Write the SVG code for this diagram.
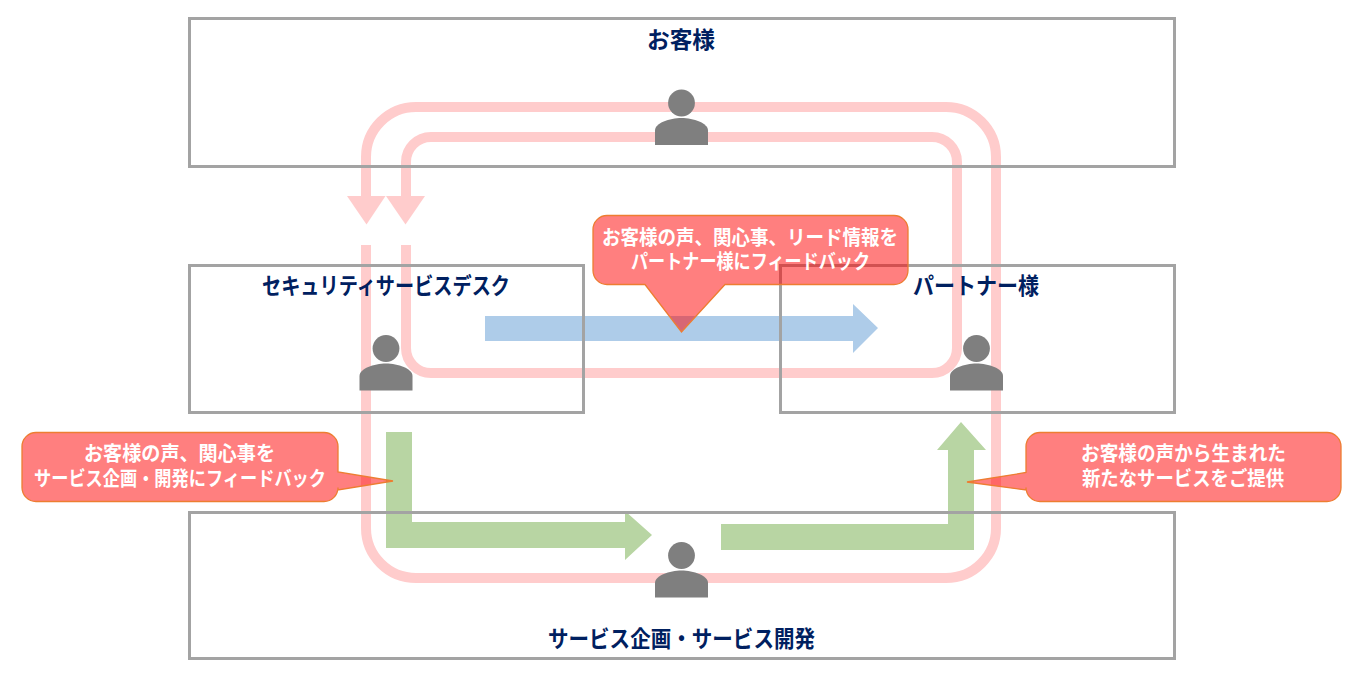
<svg xmlns="http://www.w3.org/2000/svg" width="1364" height="680" viewBox="0 0 1364 680">
<style>
text{font-family:"Liberation Sans","Noto Sans CJK JP",sans-serif;font-weight:700;text-anchor:middle}
.t{font-size:23px;fill:#002060}
.w{font-size:20px;fill:#fff}
.box{fill:none;stroke:#a3a3a3;stroke-width:3}
.flow{fill:none;stroke:#ffcccc;stroke-width:10}
.head{fill:#ffcccc}
.call{fill:#ff0000;fill-opacity:.5;stroke:#ed7d31;stroke-width:1.3}
.p{fill:#7f7f7f}
</style>
<defs>
<g id="person"><circle cx="0" cy="-42" r="13.4"/><path d="M-26.500 0V-14.500C-26.500-22-12-27 0-27S26.500-22 26.500-14.500V0Z"/></g>
</defs>
<g id="connectors">
<path class="flow" d="M366 245V528A50 50 0 0 0 416 578H946A50 50 0 0 0 996 528V157A50 50 0 0 0 946 107H416A50 50 0 0 0 366 157V197"/>
<path class="head" d="M347 196H385.500L366.500 224.500Z"/>
<path class="flow" d="M406 245V348A25 25 0 0 0 431 373H932A25 25 0 0 0 957 348V162A25 25 0 0 0 932 137H431A25 25 0 0 0 406 162V197"/>
<path class="head" d="M386 196H425L405.500 224.500Z"/>
<path fill="#aecce9" d="M485 316H853V304L878 328L853 353V341H485Z"/>
<path fill="#b8d5a3" d="M386 432H412V522H625V511L652 535L625 560V548H386Z"/>
<path fill="#b8d5a3" d="M721 524H948V450H937L961 422L986 450H974V550H721Z"/>
</g>
<g id="node-customer"><rect class="box" x="189.500" y="18.500" width="985" height="148"/><text class="t" x="681" y="48" textLength="68" lengthAdjust="spacingAndGlyphs">お客様</text><use href="#person" class="p" x="681.500" y="145"/></g>
<g id="node-desk"><rect class="box" x="189.500" y="265.500" width="394" height="147"/><text class="t" x="386" y="294" textLength="248" lengthAdjust="spacingAndGlyphs">セキュリティサービスデスク</text><use href="#person" class="p" x="386" y="390.500"/></g>
<g id="node-partner"><rect class="box" x="780.500" y="265.500" width="394" height="147"/><text class="t" x="976" y="294" textLength="126" lengthAdjust="spacingAndGlyphs">パートナー様</text><use href="#person" class="p" x="976.500" y="390.500"/></g>
<g id="node-service"><rect class="box" x="189.500" y="512.500" width="985" height="146"/><text class="t" x="681.500" y="647" textLength="267" lengthAdjust="spacingAndGlyphs">サービス企画・サービス開発</text><use href="#person" class="p" x="681.500" y="597.500"/></g>
<g id="callout-top"><path class="call" d="M607 215.500H894A14 14 0 0 1 908 229.500V270.500A14 14 0 0 1 894 284.500H725L681.500 332L645 284.500H607A14 14 0 0 1 593 270.500V229.500A14 14 0 0 1 607 215.500Z"/><text class="w" x="750" y="245" textLength="296" lengthAdjust="spacingAndGlyphs">お客様の声、関心事、リード情報を</text><text class="w" x="750.500" y="269" textLength="239" lengthAdjust="spacingAndGlyphs">パートナー様にフィードバック</text></g>
<g id="callout-left"><path class="call" d="M36 432.500H324A14 14 0 0 1 338 446.500V472L393 481L338 490V487.500A14 14 0 0 1 324 501.500H36A14 14 0 0 1 22 487.500V446.500A14 14 0 0 1 36 432.500Z"/><text class="w" x="179.500" y="461" textLength="191" lengthAdjust="spacingAndGlyphs">お客様の声、関心事を</text><text class="w" x="180" y="486" textLength="292" lengthAdjust="spacingAndGlyphs">サービス企画・開発にフィードバック</text></g>
<g id="callout-right"><path class="call" d="M1040 432.500H1327A14 14 0 0 1 1341 446.500V487.500A14 14 0 0 1 1327 501.500H1040A14 14 0 0 1 1026 487.500V490L967 482L1026 472.500V446.500A14 14 0 0 1 1040 432.500Z"/><text class="w" x="1183.500" y="461" textLength="205" lengthAdjust="spacingAndGlyphs">お客様の声から生まれた</text><text class="w" x="1183" y="486" textLength="202" lengthAdjust="spacingAndGlyphs">新たなサービスをご提供</text></g>
</svg>
